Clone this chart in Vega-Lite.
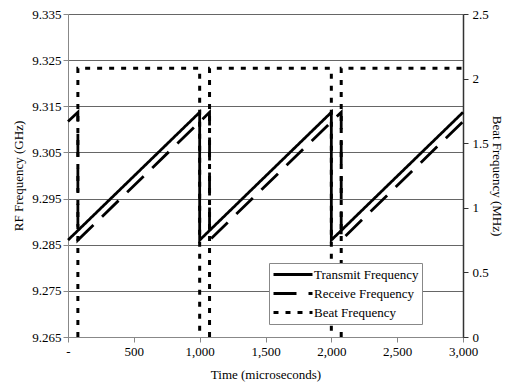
{
  "$schema": "https://vega.github.io/schema/vega-lite/v6.json",
  "width": 395,
  "height": 323,
  "autosize": "none",
  "padding": {"left": 68, "top": 14, "right": 42, "bottom": 51},
  "background": "white",
  "config": {
    "font": "Liberation Serif",
    "view": {"stroke": null},
    "axis": {
      "labelFont": "Liberation Serif",
      "titleFont": "Liberation Serif",
      "labelFontSize": 13,
      "titleFontSize": 13,
      "titleFontWeight": "normal",
      "labelColor": "black",
      "titleColor": "black"
    },
    "legend": {
      "labelFont": "Liberation Serif",
      "labelFontSize": 13,
      "labelColor": "black",
      "symbolType": "stroke",
      "symbolSize": 1521,
      "symbolStrokeWidth": 3,
      "symbolStrokeColor": "black",
      "labelOffset": 0,
      "fillColor": "white",
      "strokeColor": "#888888",
      "padding": 3,
      "rowPadding": 2,
      "clipHeight": 17
    }
  },
  "datasets": {
    "rf": [
      {"series": "Transmit Frequency", "i": 1, "t": 0, "v": 9.286},
      {"series": "Transmit Frequency", "i": 2, "t": 1000, "v": 9.3137},
      {"series": "Transmit Frequency", "i": 3, "t": 1000, "v": 9.286},
      {"series": "Transmit Frequency", "i": 4, "t": 2000, "v": 9.3137},
      {"series": "Transmit Frequency", "i": 5, "t": 2000, "v": 9.286},
      {"series": "Transmit Frequency", "i": 6, "t": 3000, "v": 9.3137},
      {"series": "Receive Frequency", "i": 1, "t": 0, "v": 9.3117},
      {"series": "Receive Frequency", "i": 2, "t": 75, "v": 9.3137},
      {"series": "Receive Frequency", "i": 3, "t": 75, "v": 9.286},
      {"series": "Receive Frequency", "i": 4, "t": 1075, "v": 9.3137},
      {"series": "Receive Frequency", "i": 5, "t": 1075, "v": 9.286},
      {"series": "Receive Frequency", "i": 6, "t": 2075, "v": 9.3137},
      {"series": "Receive Frequency", "i": 7, "t": 2075, "v": 9.286},
      {"series": "Receive Frequency", "i": 8, "t": 3000, "v": 9.3117}
    ],
    "beat": [
      {"series": "Beat Frequency", "seg": 1, "i": 1, "t": 75, "mhz": 0},
      {"series": "Beat Frequency", "seg": 1, "i": 2, "t": 75, "mhz": 2.08},
      {"series": "Beat Frequency", "seg": 1, "i": 3, "t": 1000, "mhz": 2.08},
      {"series": "Beat Frequency", "seg": 1, "i": 4, "t": 1000, "mhz": 0},
      {"series": "Beat Frequency", "seg": 2, "i": 5, "t": 1075, "mhz": 0},
      {"series": "Beat Frequency", "seg": 2, "i": 6, "t": 1075, "mhz": 2.08},
      {"series": "Beat Frequency", "seg": 2, "i": 7, "t": 2000, "mhz": 2.08},
      {"series": "Beat Frequency", "seg": 2, "i": 8, "t": 2000, "mhz": 0},
      {"series": "Beat Frequency", "seg": 3, "i": 9, "t": 2075, "mhz": 0},
      {"series": "Beat Frequency", "seg": 3, "i": 10, "t": 2075, "mhz": 2.08},
      {"series": "Beat Frequency", "seg": 3, "i": 11, "t": 3000, "mhz": 2.08}
    ]
  },
  "layer": [
    {
      "data": {"name": "rf"},
      "mark": {"type": "line", "color": "black", "strokeWidth": 2.8, "strokeCap": "butt"},
      "encoding": {
        "x": {
          "field": "t",
          "type": "quantitative",
          "scale": {"domain": [0, 3000], "nice": false},
          "axis": {
            "title": "Time (microseconds)",
            "values": [0, 500, 1000, 1500, 2000, 2500, 3000],
            "labelExpr": "datum.value == 0 ? '-' : format(datum.value, ',')",
            "grid": false,
            "tickSize": 5,
            "domainColor": "#888888",
            "tickColor": "#888888",
            "labelPadding": 3,
            "titlePadding": 10,
            "labelFlush": false
          }
        },
        "y": {
          "field": "v",
          "type": "quantitative",
          "scale": {"domain": [9.265, 9.335], "nice": false, "zero": false},
          "axis": {
            "title": "RF Frequency (GHz)",
            "values": [9.265, 9.275, 9.285, 9.295, 9.305, 9.315, 9.325, 9.335],
            "format": ".3f",
            "grid": true,
            "gridColor": "#666666",
            "gridOpacity": 1,
            "tickSize": 5,
            "domainColor": "#888888",
            "tickColor": "#888888",
            "labelPadding": 2,
            "titlePadding": 6
          }
        },
        "order": {"field": "i", "type": "quantitative"},
        "strokeDash": {
          "field": "series",
          "type": "nominal",
          "scale": {
            "domain": ["Transmit Frequency", "Receive Frequency", "Beat Frequency"],
            "range": [[1, 0], [23, 12], [5, 7]]
          },
          "legend": {"title": null, "orient": "none", "legendX": 201, "legendY": 249}
        }
      }
    },
    {
      "data": {"name": "beat"},
      "mark": {"type": "line", "color": "black", "strokeWidth": 3, "strokeCap": "butt"},
      "encoding": {
        "x": {"field": "t", "type": "quantitative"},
        "y": {
          "field": "mhz",
          "type": "quantitative",
          "scale": {"domain": [0, 2.5], "nice": false},
          "axis": {
            "orient": "right",
            "title": "Beat Frequency (MHz)",
            "values": [0, 0.5, 1, 1.5, 2, 2.5],
            "format": "~g",
            "grid": false,
            "domainColor": "#333333",
            "domainWidth": 1.5,
            "tickColor": "#333333",
            "tickSize": 5,
            "labelPadding": 4,
            "titlePadding": 1
          }
        },
        "detail": {"field": "seg", "type": "nominal"},
        "order": {"field": "i", "type": "quantitative"},
        "strokeDash": {
          "field": "series",
          "type": "nominal",
          "scale": {
            "domain": ["Transmit Frequency", "Receive Frequency", "Beat Frequency"],
            "range": [[1, 0], [23, 12], [5, 7]]
          }
        }
      }
    }
  ],
  "resolve": {"scale": {"y": "independent"}}
}
